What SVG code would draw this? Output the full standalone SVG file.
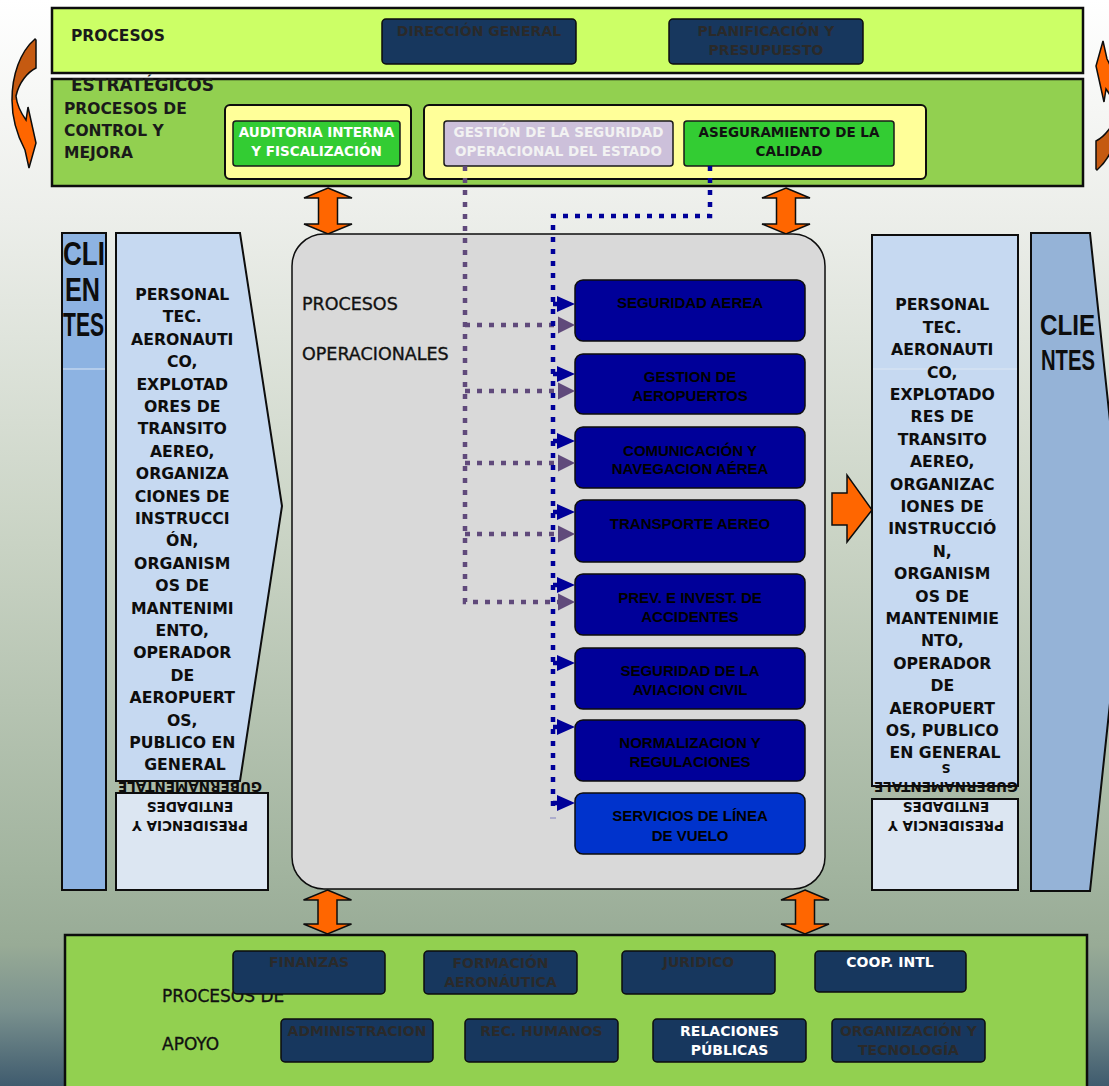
<svg xmlns="http://www.w3.org/2000/svg" width="1109" height="1086" viewBox="0 0 1109 1086">
<defs>
<linearGradient id="bg" x1="0" y1="0" x2="0" y2="1">
<stop offset="0" stop-color="#ffffff"/>
<stop offset="0.2" stop-color="#eceeea"/>
<stop offset="0.5" stop-color="#c9d3c4"/>
<stop offset="0.8" stop-color="#a2b49f"/>
<stop offset="0.87" stop-color="#98ab96"/>
<stop offset="0.93" stop-color="#7a918e"/>
<stop offset="1" stop-color="#3f5b6e"/>
</linearGradient>
<linearGradient id="curv" x1="0" y1="0" x2="0" y2="1">
<stop offset="0" stop-color="#c55a11"/>
<stop offset="0.47" stop-color="#c55a11"/>
<stop offset="0.47" stop-color="#ff6600"/>
<stop offset="1" stop-color="#ff6600"/>
</linearGradient>
<path id="curvArrow" d="M35,39 L36,40 L36,68 C28,72 19,82 16,96 C17,106 21,113 26,120 L28,107 L36,143 L29,168 L25,150 C17,135 12,118 12,100 C12,75 20,52 35,39 Z"/>
</defs>
<style>
.band{stroke:#0d0d0d;stroke-width:2.5}
.dk{fill:#17375e;stroke:#0d0d0d;stroke-width:1.5}
.op{fill:#000099;stroke:#0d0d0d;stroke-width:1.5}
.yel{fill:#ffff99;stroke:#0d0d0d;stroke-width:2}
.grn{fill:#33cc33;stroke:#1a1a1a;stroke-width:1.5}
.lbl{font-family:"DejaVu Sans",Verdana,sans-serif;font-weight:bold;fill:#1a1a1a}
.reg{font-family:"DejaVu Sans",Verdana,sans-serif;font-weight:normal;fill:#111111;stroke:#111111;stroke-width:0.35}
.t14{font-family:"DejaVu Sans",Verdana,sans-serif;font-weight:bold;font-size:14px;text-anchor:middle;fill:#2a2a2a}
.t14.w{fill:#ffffff}
.t135{font-family:"DejaVu Sans",Verdana,sans-serif;font-weight:bold;font-size:13.5px;text-anchor:middle}
.opt{font-family:"Liberation Sans",Arial,sans-serif;font-weight:bold;font-size:15px;text-anchor:middle;fill:#000000}
.cl{font-family:"DejaVu Sans",Verdana,sans-serif;font-weight:bold;font-size:15.7px;text-anchor:middle;fill:#0d0d0d}
.fl{font-family:"DejaVu Sans",Verdana,sans-serif;font-weight:bold;font-size:13.5px;text-anchor:middle;fill:#0d0d0d}
.big{font-family:"Liberation Sans",Arial,sans-serif;font-weight:bold;fill:#0d0d0d}
.orng{fill:#ff6600;stroke:#0d0d0d;stroke-width:1.5}
.pd{fill:none;stroke:#604a7b;stroke-width:4.5;stroke-dasharray:5 7}
.bd{fill:none;stroke:#000099;stroke-width:4.5;stroke-dasharray:5 7}
.pa{fill:#604a7b}
.ba{fill:#000099}
</style>

<rect x="0" y="0" width="1109" height="1086" fill="url(#bg)"/>

<g id="curved-arrows">
<use href="#curvArrow" fill="url(#curv)" stroke="#0d0d0d" stroke-width="1.5"/>
<use href="#curvArrow" fill="url(#curv)" stroke="#0d0d0d" stroke-width="1.5" transform="rotate(180 566 104.5)"/>
</g>

<g id="procesos-estrategicos">
<rect class="band" x="52" y="8" width="1031" height="65" fill="#ccff66"/>
<text class="lbl" x="71" y="41" font-size="15.5">PROCESOS</text>
</g>
<g id="direccion-general">
<rect class="dk" x="382" y="19" width="194" height="45" rx="4"/>
<text class="t14" x="479" y="36">DIRECCIÓN GENERAL</text>
</g>
<g id="planificacion">
<rect class="dk" x="669" y="19" width="194" height="45" rx="4"/>
<text class="t14" x="766" y="36">PLANIFICACIÓN Y</text>
<text class="t14" x="766" y="54.5">PRESUPUESTO</text>
</g>

<g id="procesos-control">
<rect class="band" x="52" y="79" width="1031" height="107" fill="#92d050"/>
<text class="lbl" x="71" y="91" font-size="17">ESTRATÉGICOS</text>
<text class="lbl" x="64" y="114" font-size="15.5">PROCESOS DE</text>
<text class="lbl" x="64" y="136" font-size="15.5">CONTROL Y</text>
<text class="lbl" x="64" y="158" font-size="15.5">MEJORA</text>
<rect class="yel" x="225" y="105" width="186" height="74" rx="5"/>
<rect class="yel" x="424" y="105" width="502" height="74" rx="5"/>
</g>
<g id="auditoria">
<rect class="grn" x="233" y="121" width="167" height="45" rx="3"/>
<text class="t135" x="316.5" y="137" fill="#ffffff">AUDITORIA INTERNA</text>
<text class="t135" x="316.5" y="155.5" fill="#ffffff">Y FISCALIZACIÓN</text>
</g>
<g id="gestion-seguridad">
<rect x="444" y="121" width="229" height="45" rx="3" fill="#ccc0da" stroke="#1a1a1a" stroke-width="1.5"/>
<text class="t135" x="558.5" y="137" font-size="13px" fill="#f2f2f2">GESTIÓN DE LA SEGURIDAD</text>
<text class="t135" x="558.5" y="155.5" font-size="13px" fill="#f2f2f2">OPERACIONAL DEL ESTADO</text>
</g>
<g id="aseguramiento">
<rect class="grn" x="684" y="121" width="210" height="45" rx="3"/>
<text class="t135" x="789" y="137" fill="#111111">ASEGURAMIENTO DE LA</text>
<text class="t135" x="789" y="155.5" fill="#111111">CALIDAD</text>
</g>

<g id="double-arrows">
<polygon class="orng" points="328,188 352,198 337.5,198 337.5,224 352,224 328,234 304,224 318.5,224 318.5,198 304,198"/>
<polygon class="orng" points="786,188 810,198 795.5,198 795.5,224 810,224 786,234 762,224 776.5,224 776.5,198 762,198"/>
<polygon class="orng" points="327.5,890 351.5,900 337,900 337,924 351.5,924 327.5,934 303.5,924 318,924 318,900 303.5,900"/>
<polygon class="orng" points="805,890 829,900 814.5,900 814.5,924 829,924 805,934 781,924 795.5,924 795.5,900 781,900"/>
</g>

<g id="clientes-izq">
<rect x="62" y="233" width="44" height="657" fill="#8db3e2" stroke="#0d0d0d" stroke-width="2"/>
<line x1="63" y1="369" x2="105" y2="369" stroke="#dbe6f4" stroke-width="1"/>
<text class="big" x="63" y="265" font-size="33" textLength="42" lengthAdjust="spacingAndGlyphs">CLI</text>
<text class="big" x="65" y="300.5" font-size="33" textLength="35" lengthAdjust="spacingAndGlyphs">EN</text>
<text class="big" x="63" y="336" font-size="33" textLength="41" lengthAdjust="spacingAndGlyphs">TES</text>
</g>
<g id="presidencia-izq">
<rect x="116" y="793" width="152" height="97" fill="#dce6f2" stroke="#0d0d0d" stroke-width="2"/>
<g transform="rotate(180 190 800)">
<text class="fl"><tspan x="190" y="778.75">PRESIDENCIA Y</tspan><tspan x="190" y="798.25">ENTIDADES</tspan><tspan x="190" y="817.75">GUBERNAMENTALE</tspan></text>
</g>
</g>
<g id="usuarios-izq">
<polygon points="116,233 240,233 282,506 240,781 116,781" fill="#c6d9f1" stroke="#0d0d0d" stroke-width="2"/>
<text class="cl">
<tspan x="185" y="300">PERSONAL</tspan>
<tspan x="185" y="322.4">TEC.</tspan>
<tspan x="185" y="344.8">AERONAUTI</tspan>
<tspan x="185" y="367.2">CO,</tspan>
<tspan x="185" y="389.6">EXPLOTAD</tspan>
<tspan x="185" y="412">ORES DE</tspan>
<tspan x="185" y="434.4">TRANSITO</tspan>
<tspan x="185" y="456.8">AEREO,</tspan>
<tspan x="185" y="479.2">ORGANIZA</tspan>
<tspan x="185" y="501.6">CIONES DE</tspan>
<tspan x="185" y="524">INSTRUCCI</tspan>
<tspan x="185" y="546.4">ÓN,</tspan>
<tspan x="185" y="568.8">ORGANISM</tspan>
<tspan x="185" y="591.2">OS DE</tspan>
<tspan x="185" y="613.6">MANTENIMI</tspan>
<tspan x="185" y="636">ENTO,</tspan>
<tspan x="185" y="658.4">OPERADOR</tspan>
<tspan x="185" y="680.8">DE</tspan>
<tspan x="185" y="703.2">AEROPUERT</tspan>
<tspan x="185" y="725.6">OS,</tspan>
<tspan x="185" y="748">PUBLICO EN</tspan>
<tspan x="185" y="770.4">GENERAL</tspan>
</text>
</g>

<g id="procesos-operacionales">
<rect x="292" y="234" width="533" height="655" rx="32" fill="#d9d9d9" stroke="#0d0d0d" stroke-width="1.5"/>
<text class="reg" x="302" y="310" font-size="17.5">PROCESOS</text>
<text class="reg" x="302" y="360" font-size="17.5">OPERACIONALES</text>
</g>
<g id="seguridad-aerea">
<rect class="op" x="575" y="280" width="230" height="61" rx="8"/>
<text class="opt" x="690" y="308">SEGURIDAD AEREA</text>
</g>
<g id="gestion-aeropuertos">
<rect class="op" x="575" y="354" width="230" height="60" rx="8"/>
<text class="opt" x="690" y="382">GESTION DE</text>
<text class="opt" x="690" y="401">AEROPUERTOS</text>
</g>
<g id="comunicacion">
<rect class="op" x="575" y="427" width="230" height="61" rx="8"/>
<text class="opt" x="690" y="455.5">COMUNICACIÓN Y</text>
<text class="opt" x="690" y="473.5">NAVEGACION AÉREA</text>
</g>
<g id="transporte">
<rect class="op" x="575" y="500" width="230" height="62" rx="8"/>
<text class="opt" x="690" y="528.5">TRANSPORTE AEREO</text>
</g>
<g id="prevencion">
<rect class="op" x="575" y="574" width="230" height="61" rx="8"/>
<text class="opt" x="690" y="603">PREV. E INVEST. DE</text>
<text class="opt" x="690" y="621.5">ACCIDENTES</text>
</g>
<g id="seguridad-aviacion">
<rect class="op" x="575" y="648" width="230" height="61" rx="8"/>
<text class="opt" x="690" y="676">SEGURIDAD DE LA</text>
<text class="opt" x="690" y="694.7">AVIACION CIVIL</text>
</g>
<g id="normalizacion">
<rect class="op" x="575" y="720" width="230" height="61" rx="8"/>
<text class="opt" x="690" y="748">NORMALIZACION Y</text>
<text class="opt" x="690" y="767.4">REGULACIONES</text>
</g>
<g id="servicios-linea">
<rect x="575" y="793" width="230" height="61" rx="8" fill="#0033cc" stroke="#0d0d0d" stroke-width="1.5"/>
<text class="opt" x="690" y="821">SERVICIOS DE LÍNEA</text>
<text class="opt" x="690" y="841">DE VUELO</text>
</g>

<g id="connectors">
<path class="pd" d="M465,166 V602 H558"/>
<path class="pd" d="M465,325 H558 M465,391 H558 M465,463 H558 M465,534 H558"/>
<polygon class="pa" points="558,316.5 575,325 558,333.5"/>
<polygon class="pa" points="558,382.5 575,391 558,399.5"/>
<polygon class="pa" points="558,454.5 575,463 558,471.5"/>
<polygon class="pa" points="558,525.5 575,534 558,542.5"/>
<polygon class="pa" points="558,593.5 575,602 558,610.5"/>
<path class="bd" d="M710,166 V216 H553 V812"/>
<path class="bd" d="M553,304 H558 M553,374 H558 M553,441 H558 M553,512 H558 M553,585 H558 M553,663 H558 M553,727 H558 M553,803 H558"/>
<polygon class="ba" points="557,296 575,304 557,312"/>
<polygon class="ba" points="557,366 575,374 557,382"/>
<polygon class="ba" points="557,433 575,441 557,449"/>
<polygon class="ba" points="557,504 575,512 557,520"/>
<polygon class="ba" points="557,577 575,585 557,593"/>
<polygon class="ba" points="557,655 575,663 557,671"/>
<polygon class="ba" points="557,719 575,727 557,735"/>
<polygon class="ba" points="557,795 575,803 557,811"/>
<line x1="550" y1="818" x2="556" y2="818" stroke="#8080c0" stroke-width="1"/>
</g>

<g id="flecha-salida">
<polygon class="orng" points="832,493 847,493 847,475 872,510 847,542 847,525 832,525"/>
</g>
<g id="usuarios-der">
<rect x="872" y="235" width="146" height="551" fill="#c6d9f1" stroke="#0d0d0d" stroke-width="2"/>
<line x1="873" y1="369" x2="1017" y2="369" stroke="#dde7f3" stroke-width="1"/>
<text class="cl">
<tspan x="945" y="310.3">PERSONAL</tspan>
<tspan x="945" y="332.7">TEC.</tspan>
<tspan x="945" y="355.1">AERONAUTI</tspan>
<tspan x="945" y="377.5">CO,</tspan>
<tspan x="945" y="399.9">EXPLOTADO</tspan>
<tspan x="945" y="422.3">RES DE</tspan>
<tspan x="945" y="444.7">TRANSITO</tspan>
<tspan x="945" y="467.1">AEREO,</tspan>
<tspan x="945" y="489.5">ORGANIZAC</tspan>
<tspan x="945" y="511.9">IONES DE</tspan>
<tspan x="945" y="534.3">INSTRUCCIÓ</tspan>
<tspan x="945" y="556.7">N,</tspan>
<tspan x="945" y="579.1">ORGANISM</tspan>
<tspan x="945" y="601.5">OS DE</tspan>
<tspan x="945" y="623.9">MANTENIMIE</tspan>
<tspan x="945" y="646.3">NTO,</tspan>
<tspan x="945" y="668.7">OPERADOR</tspan>
<tspan x="945" y="691.1">DE</tspan>
<tspan x="945" y="713.5">AEROPUERT</tspan>
<tspan x="945" y="735.9">OS, PUBLICO</tspan>
<tspan x="945" y="758.3">EN GENERAL</tspan>
</text>
</g>
<g id="presidencia-der">
<rect x="872" y="799" width="146" height="91" fill="#dce6f2" stroke="#0d0d0d" stroke-width="2"/>
<g transform="rotate(180 946 800)">
<text class="fl"><tspan x="946" y="778.75">PRESIDENCIA Y</tspan><tspan x="946" y="798.25">ENTIDADES</tspan><tspan x="946" y="817.75">GUBERNAMENTALE</tspan><tspan x="946" y="836" font-size="12.5">S</tspan></text>
</g>
</g>
<g id="clientes-der">
<polygon points="1031,233 1090,233 1125,562 1090,891 1031,891" fill="#95b3d7" stroke="#0d0d0d" stroke-width="2"/>
<text class="big" x="1040" y="335" font-size="29" textLength="55" lengthAdjust="spacingAndGlyphs">CLIE</text>
<text class="big" x="1041" y="370" font-size="29" textLength="54" lengthAdjust="spacingAndGlyphs">NTES</text>
</g>

<g id="procesos-apoyo">
<rect class="band" x="65" y="935" width="1022" height="160" fill="#92d050"/>
<text class="reg" x="162" y="1002" font-size="17">PROCESOS DE</text>
<text class="reg" x="162" y="1050" font-size="17">APOYO</text>
</g>
<g id="finanzas">
<rect class="dk" x="233" y="951" width="152" height="43" rx="4"/>
<text class="t14" x="309" y="967">FINANZAS</text>
</g>
<g id="formacion">
<rect class="dk" x="424" y="951" width="153" height="43" rx="4"/>
<text class="t14" x="500.5" y="968">FORMACIÓN</text>
<text class="t14" x="500.5" y="987">AERONÁUTICA</text>
</g>
<g id="juridico">
<rect class="dk" x="622" y="951" width="153" height="43" rx="4"/>
<text class="t14" x="698.5" y="967">JURIDICO</text>
</g>
<g id="coop-intl">
<rect class="dk" x="815" y="951" width="151" height="41" rx="4"/>
<text class="t14 w" x="890" y="967">COOP. INTL</text>
</g>
<g id="administracion">
<rect class="dk" x="281" y="1019" width="152" height="43" rx="4"/>
<text class="t14" x="357" y="1036">ADMINISTRACION</text>
</g>
<g id="rec-humanos">
<rect class="dk" x="465" y="1019" width="153" height="43" rx="4"/>
<text class="t14" x="541.5" y="1036">REC. HUMANOS</text>
</g>
<g id="relaciones-publicas">
<rect class="dk" x="653" y="1019" width="153" height="43" rx="4"/>
<text class="t14 w" x="729.5" y="1036">RELACIONES</text>
<text class="t14 w" x="729.5" y="1054.5">PÚBLICAS</text>
</g>
<g id="organizacion-tecnologia">
<rect class="dk" x="832" y="1019" width="153" height="43" rx="4"/>
<text class="t14" x="908.5" y="1036">ORGANIZACIÓN Y</text>
<text class="t14" x="908.5" y="1054.5">TECNOLOGÍA</text>
</g>
</svg>
